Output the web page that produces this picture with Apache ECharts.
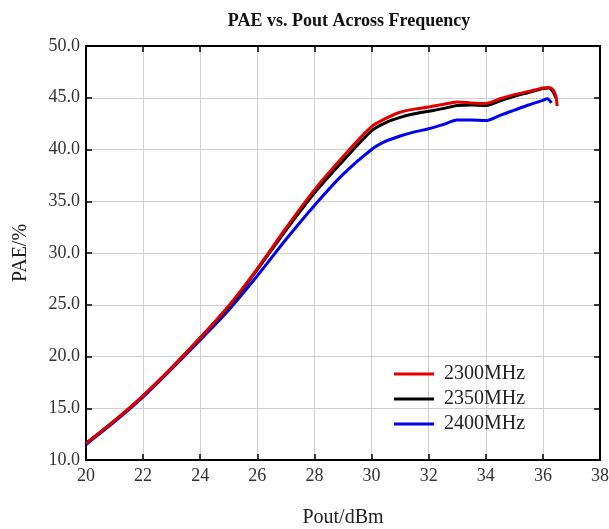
<!DOCTYPE html>
<html><head><meta charset="utf-8">
<script src="https://cdn.jsdelivr.net/npm/echarts@6/dist/echarts.min.js"></script>
<style>html,body{margin:0;padding:0;background:#fff}#c{width:609px;height:529px}</style>
</head><body><div id="c"></div>
<script>
const seriesNames = ['2300MHz', '2350MHz', '2400MHz'];
const pout2300 = [20, 21, 22, 23, 24, 25, 26, 27, 28, 29, 30, 30.5, 31, 31.5, 32, 32.5, 33, 33.5, 34, 34.5, 35, 35.5, 36, 36.2, 36.35, 36.45, 36.5];
const pae2300 = [11.6, 13.8, 16.2, 18.9, 21.8, 24.9, 28.5, 32.4, 36.1, 39.3, 42.2, 43.0, 43.6, 43.9, 44.1, 44.35, 44.6, 44.5, 44.45, 44.9, 45.3, 45.6, 45.95, 46.0, 45.8, 45.2, 44.2];
const pout2350 = [20, 21, 22, 23, 24, 25, 26, 27, 28, 29, 30, 30.5, 31, 31.5, 32, 32.5, 33, 33.5, 34, 34.5, 35, 35.5, 36, 36.2, 36.35, 36.45];
const pae2350 = [11.6, 13.8, 16.2, 18.9, 21.8, 24.8, 28.4, 32.2, 35.8, 38.9, 41.8, 42.6, 43.1, 43.45, 43.7, 43.95, 44.25, 44.3, 44.25, 44.7, 45.15, 45.5, 45.9, 45.95, 45.6, 45.0];
const pout2400 = [20, 21, 22, 23, 24, 25, 26, 27, 28, 29, 30, 30.5, 31, 31.5, 32, 32.5, 33, 33.5, 34, 34.5, 35, 35.5, 36, 36.15, 36.3];
const pae2400 = [11.5, 13.7, 16.1, 18.8, 21.6, 24.5, 27.8, 31.3, 34.6, 37.6, 40.0, 40.8, 41.3, 41.7, 42.0, 42.4, 42.85, 42.85, 42.8, 43.3, 43.8, 44.3, 44.75, 44.9, 44.5];
const xTicks = {min: 20, max: 38, step: 2};
const yTicks = {min: 10, max: 50, step: 5};

const colors = ['#e00000', '#000000', '#0000ee'];
const pairs = [[pout2300, pae2300], [pout2350, pae2350], [pout2400, pae2400]];
const font = '"Liberation Serif", "Times New Roman", serif';

const chart = echarts.init(document.getElementById('c'));
const baseAxisLine = {show: true, lineStyle: {color: '#000', width: 2}};
const tick = {show: true, inside: true, length: 6, lineStyle: {color: '#000', width: 1.5}};
chart.setOption({
  animation: false,
  backgroundColor: '#fff',
  title: {
    text: 'PAE vs. Pout Across Frequency',
    left: 344, top: 7, textAlign: 'center',
    textStyle: {fontFamily: font, fontWeight: 'bold', fontSize: 18, color: '#111'}
  },
  grid: {left: 86, right: 9, top: 46, bottom: 69, containLabel: false, outerBoundsMode: 'none'},
  legend: {
    orient: 'vertical', left: 389, top: 359,
    icon: 'rect', itemWidth: 40, itemHeight: 3, itemGap: 5,
    data: seriesNames,
    textStyle: {fontFamily: font, fontSize: 20, color: '#222', padding: [0, 0, 0, 5]}
  },
  xAxis: [{
    type: 'value', min: xTicks.min, max: xTicks.max, interval: xTicks.step,
    name: 'Pout/dBm', nameLocation: 'middle', nameGap: 48,
    nameTextStyle: {fontFamily: font, fontSize: 20, color: '#222'},
    axisLine: baseAxisLine, axisTick: tick,
    axisLabel: {fontFamily: font, fontSize: 18, color: '#333', margin: 7},
    splitLine: {show: true, lineStyle: {color: '#d0d0d0', width: 1}}
  }, {
    type: 'value', position: 'top', min: xTicks.min, max: xTicks.max, interval: xTicks.step,
    axisLine: baseAxisLine, axisTick: tick,
    axisLabel: {show: false}, splitLine: {show: false}
  }],
  yAxis: [{
    type: 'value', min: yTicks.min, max: yTicks.max, interval: yTicks.step,
    name: 'PAE/%', nameLocation: 'middle', nameGap: 55,
    nameTextStyle: {fontFamily: font, fontSize: 20, color: '#222'},
    axisLine: baseAxisLine, axisTick: tick,
    axisLabel: {fontFamily: font, fontSize: 18, color: '#333', margin: 6, formatter: v => v.toFixed(1)},
    splitLine: {show: true, lineStyle: {color: '#d0d0d0', width: 1}}
  }, {
    type: 'value', position: 'right', min: yTicks.min, max: yTicks.max, interval: yTicks.step,
    axisLine: baseAxisLine, axisTick: tick,
    axisLabel: {show: false}, splitLine: {show: false}
  }],
  series: seriesNames.map((n, i) => ({
    name: n, type: 'line', smooth: 0.3, showSymbol: false, symbol: 'none',
    xAxisIndex: 0, yAxisIndex: 0,
    color: colors[i],
    lineStyle: {color: colors[i], width: 3},
    z: 10 - i,
    data: pairs[i][0].map((x, k) => [x, pairs[i][1][k]])
  }))
});
</script></body></html>
